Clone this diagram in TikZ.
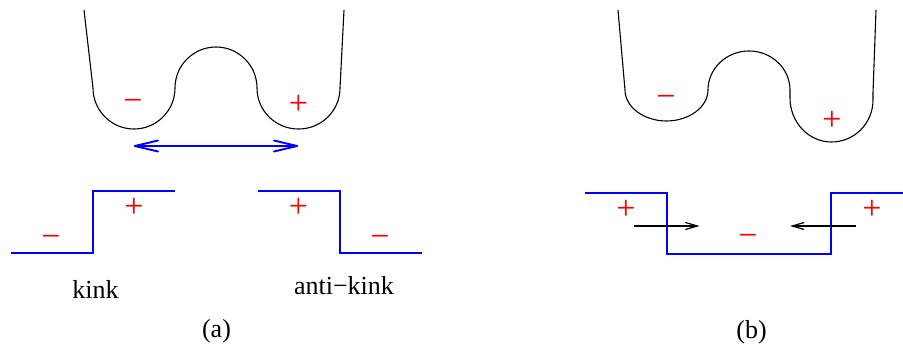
\documentclass[tikz,border=0pt]{standalone}
\usepackage{fontspec}
\setmainfont{Liberation Serif}
\usetikzlibrary{arrows.meta}
\tikzset{
  curve/.style={black, line width=1.1pt, line join=round},
  stepline/.style={blue, line width=1.7pt, line join=miter},
  sign/.style={red, font=\fontsize{34}{40}\selectfont, inner sep=0pt, text height=17pt, text depth=0pt},
  lbl/.style={font=\fontsize{26}{30}\selectfont, inner sep=0pt, anchor=base},
  blueline/.style={blue, line width=1.9pt, line cap=round, line join=round},
  blackarrow/.style={black, line width=1.2pt, -{Straight Barb[length=12pt,width=7pt]}}
}
\begin{document}
\begin{tikzpicture}[x=1pt,y=-1pt]
\useasboundingbox (0,0) rectangle (903,345);
% ---- panel (a), top curve
\draw[curve] (84,10) -- (93,88)
  .. controls (93,110.6) and (111.4,129) .. (134,129)
  .. controls (156.6,129) and (175,110.6) .. (175,88)
  .. controls (175,65.4) and (193.4,47) .. (216,47)
  .. controls (238.6,47) and (257,65.4) .. (257,88)
  .. controls (257,110.6) and (275.4,129) .. (298.5,129)
  .. controls (321.6,129) and (340,110.6) .. (340,88)
  -- (344,10);
\node[sign] (am1) at (133,103) {−};
\node[sign] (ap1) at (298.5,106) {+};
\coordinate (aL) at (135,146);
\coordinate (aR) at (297,146);
\draw[blueline] (aL) -- (aR);
\draw[blueline] ([shift={(23,-5.5)}]aL) -- (aL) -- ([shift={(23,5.5)}]aL);
\draw[blueline] ([shift={(-23,-5.5)}]aR) -- (aR) -- ([shift={(-23,5.5)}]aR);
% ---- panel (a), bottom
\draw[stepline] (11,253) -- (93,253) -- (93,191) -- (175,191);
\draw[stepline] (258,191) -- (340,191) -- (340,253) -- (422,253);
\node[sign] (am2) at (51,239) {−};
\node[sign] (ap2) at (134,209) {+};
\node[sign] (ap3) at (298.5,209) {+};
\node[sign] (am3) at (380,239) {−};
\node[lbl] (kink) at (95.5,298) {kink};
\node[lbl] (akink) at (344,294) {anti−kink};
\node[lbl] (la) at (216.5,337) {(a)};
% ---- panel (b), top curve
\draw[curve] (618,10) -- (625,90)
  .. controls (625,107.1) and (644.1,121) .. (666.5,121)
  .. controls (688.9,121) and (708,107.1) .. (708,90)
  .. controls (708,68.5) and (726.4,51) .. (749,51)
  .. controls (771.6,51) and (790,68.5) .. (790,90)
  -- (790,98)
  .. controls (790,122.3) and (808.6,142) .. (831.5,142)
  .. controls (854.4,142) and (873,123.2) .. (873,100)
  -- (873,93) -- (876,10);
\node[sign] (bm1) at (666,99) {−};
\node[sign] (bp1) at (832,122) {+};
% ---- panel (b), bottom
\draw[stepline] (585,193) -- (667,193) -- (667,254) -- (831,254) -- (831,193) -- (903,193);
\node[sign] (bp2) at (626,211) {+};
\node[sign] (bp3) at (872,211) {+};
\node[sign] (bm2) at (748,238) {−};
\coordinate (b1s) at (634,226);
\coordinate (b1e) at (699.5,226);
\coordinate (b2s) at (856,226);
\coordinate (b2e) at (790,226);
\draw[blackarrow] (b1s) -- (b1e);
\draw[blackarrow] (b2s) -- (b2e);
\node[lbl] (lb) at (751.5,338) {(b)};
\end{tikzpicture}
\end{document}
